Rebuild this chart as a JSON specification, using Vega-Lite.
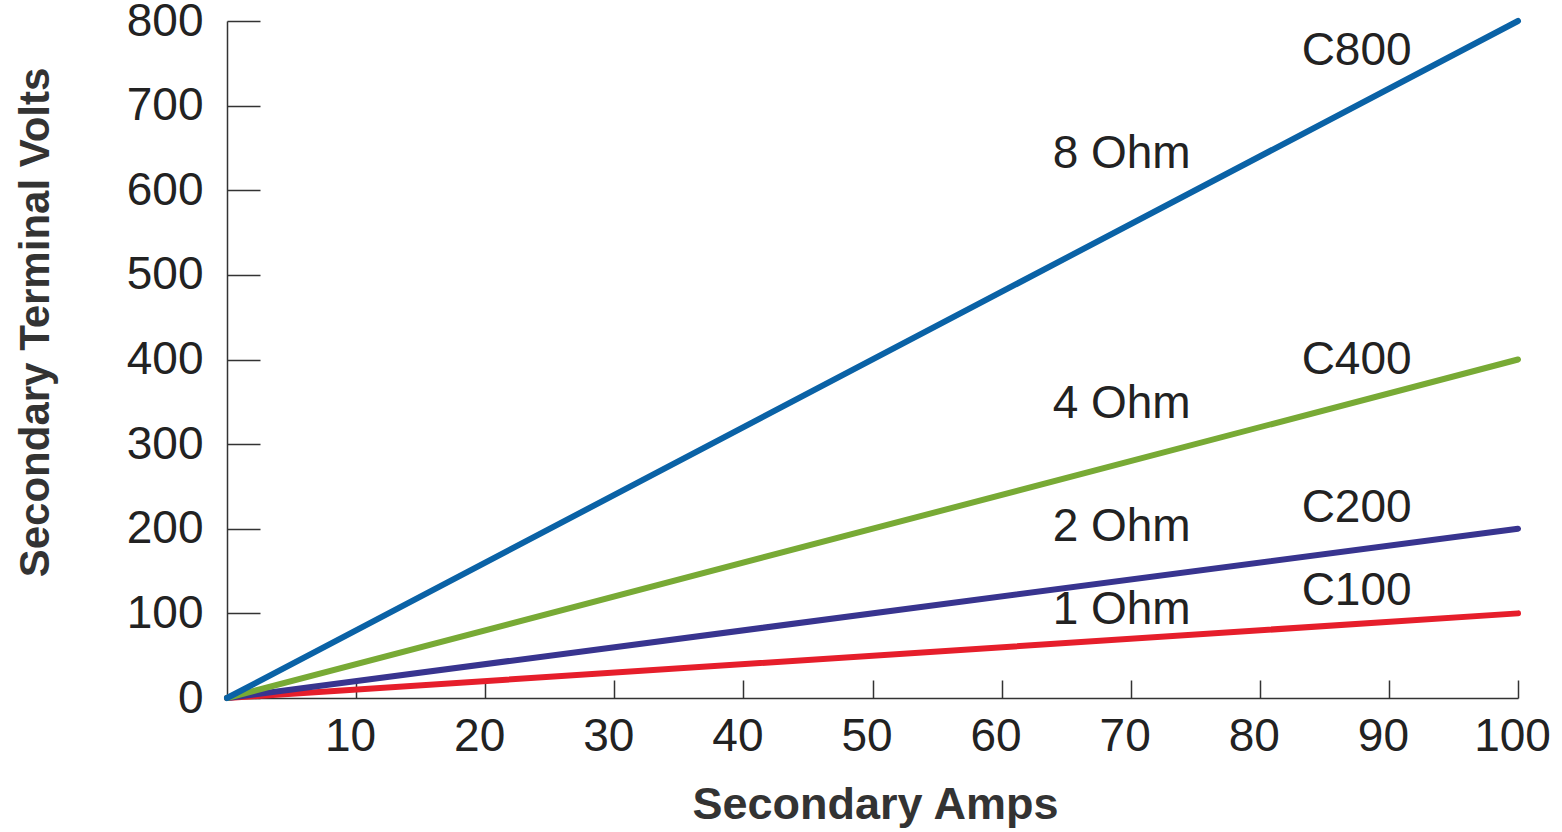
{
  "$schema": "https://vega.github.io/schema/vega-lite/v6.json",
  "width": 1291,
  "height": 677,
  "autosize": {"type": "none"},
  "padding": {"left": 227, "top": 21, "right": 44, "bottom": 134},
  "background": "white",
  "config": {
    "view": {"stroke": null},
    "font": "Liberation Sans"
  },
  "datasets": {
    "lines": [
      {"amps": 0, "volts": 0, "series": "1 Ohm"},
      {"amps": 100, "volts": 100, "series": "1 Ohm"},
      {"amps": 0, "volts": 0, "series": "2 Ohm"},
      {"amps": 100, "volts": 200, "series": "2 Ohm"},
      {"amps": 0, "volts": 0, "series": "4 Ohm"},
      {"amps": 100, "volts": 400, "series": "4 Ohm"},
      {"amps": 0, "volts": 0, "series": "8 Ohm"},
      {"amps": 100, "volts": 800, "series": "8 Ohm"}
    ],
    "labels": [
      {"amps": 87.5, "volts": 765, "label": "C800"},
      {"amps": 69.3, "volts": 643, "label": "8 Ohm"},
      {"amps": 87.5, "volts": 399, "label": "C400"},
      {"amps": 69.3, "volts": 348, "label": "4 Ohm"},
      {"amps": 87.5, "volts": 224, "label": "C200"},
      {"amps": 69.3, "volts": 202, "label": "2 Ohm"},
      {"amps": 87.5, "volts": 127, "label": "C100"},
      {"amps": 69.3, "volts": 104, "label": "1 Ohm"}
    ]
  },
  "layer": [
    {
      "data": {"name": "lines"},
      "mark": {"type": "line", "strokeWidth": 6, "strokeCap": "round"},
      "encoding": {
        "x": {
          "field": "amps", "type": "quantitative",
          "scale": {"domain": [0, 100], "nice": false},
          "axis": {
            "title": "Secondary Amps",
            "values": [10, 20, 30, 40, 50, 60, 70, 80, 90, 100],
            "grid": false,
            "tickSize": -18,
            "tickWidth": 1.5,
            "tickColor": "#333333",
            "domainColor": "#333333",
            "domainWidth": 1.5,
            "labelPadding": 34,
            "labelOffset": -6,
            "labelFlush": false,
            "labelOverlap": false,
            "labelFontSize": 46,
            "labelColor": "#222222",
            "labelFont": "Liberation Sans",
            "titleFont": "Liberation Sans",
            "titleFontSize": 45,
            "titleFontWeight": "bold",
            "titleColor": "#333333",
            "titleBaseline": "alphabetic",
            "titleY": 120,
            "titleX": 648
          }
        },
        "y": {
          "field": "volts", "type": "quantitative",
          "scale": {"domain": [0, 800], "nice": false},
          "axis": {
            "title": "Secondary Terminal Volts",
            "values": [0, 100, 200, 300, 400, 500, 600, 700, 800],
            "grid": false,
            "tickSize": -33,
            "tickWidth": 1.5,
            "tickColor": "#333333",
            "domainColor": "#333333",
            "domainWidth": 1.5,
            "labelPadding": 57,
            "labelFlush": false,
            "labelOverlap": false,
            "labelFontSize": 46,
            "labelColor": "#222222",
            "labelFont": "Liberation Sans",
            "titleFont": "Liberation Sans",
            "titleFontSize": 42,
            "titleFontWeight": "bold",
            "titleColor": "#333333",
            "titleAngle": -90,
            "titleBaseline": "middle",
            "titleX": -192,
            "titleY": 301
          }
        },
        "color": {
          "field": "series", "type": "nominal",
          "scale": {
            "domain": ["1 Ohm", "2 Ohm", "4 Ohm", "8 Ohm"],
            "range": ["#e61e2b", "#38348f", "#78aa35", "#0a62a6"]
          },
          "legend": null
        },
        "order": {"field": "volts"}
      }
    },
    {
      "data": {"name": "labels"},
      "mark": {"type": "text", "fontSize": 46, "font": "Liberation Sans", "color": "#222222", "align": "center", "baseline": "middle"},
      "encoding": {
        "x": {"field": "amps", "type": "quantitative"},
        "y": {"field": "volts", "type": "quantitative"},
        "text": {"field": "label"}
      }
    }
  ]
}
